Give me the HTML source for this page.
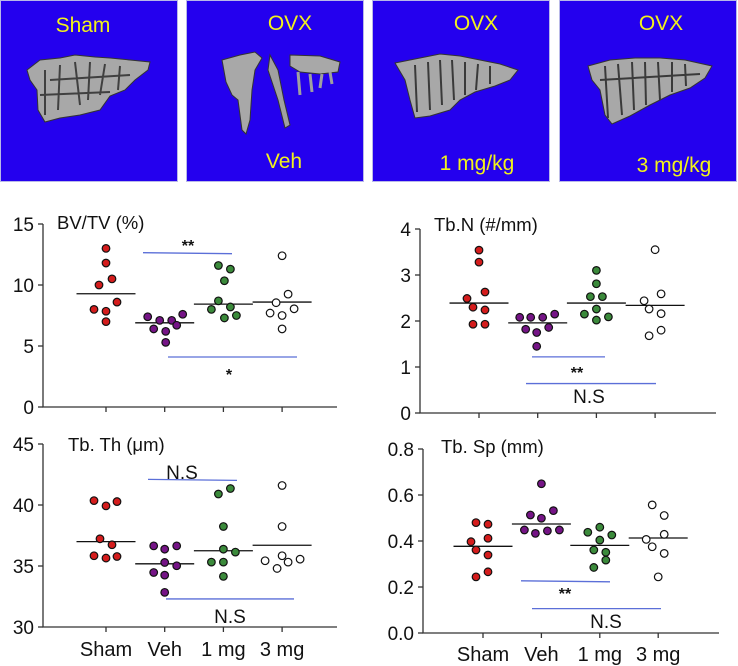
<!DOCTYPE html>
<html><head><meta charset="utf-8"><style>
html,body{margin:0;padding:0;background:#fff;}
svg{display:block;font-family:"Liberation Sans",Arial,sans-serif;}
</style></head><body>
<svg id="fig" width="738" height="666" viewBox="0 0 738 666">
<g>
 <g>
  <rect x="0.5" y="0.5" width="177" height="181" fill="#2400ee" stroke="#b8b8e8"/>
  <path d="M27 70 L40 60 L60 58 L75 55 L95 57 L110 58 L130 60 L150 62 L148 70 L135 80 L125 90 L110 96 L100 110 L80 115 L60 118 L45 122 L38 110 L37 90 L30 80 Z" fill="#a8a8a8" stroke="#333" stroke-width="1"/>
  <path d="M45 70 L45 115 M60 65 L58 110 M75 62 L80 105 M90 62 L88 100 M105 64 L100 95 M120 66 L118 90 M50 80 L130 75 M40 95 L110 92" stroke="#404040" stroke-width="2" fill="none"/>
  <text x="83" y="32" font-size="21" fill="#f2f21a" text-anchor="middle">Sham</text>
 </g>
 <g>
  <rect x="186.5" y="0.5" width="177" height="181" fill="#2400ee" stroke="#b8b8e8"/>
  <path d="M222 60 L240 55 L255 52 L262 58 L255 70 L252 90 L250 120 L246 134 L242 130 L238 100 L232 95 L226 82 Z" fill="#a8a8a8" stroke="#333"/>
  <path d="M270 55 L278 70 L284 100 L290 125 L285 128 L278 100 L268 70 Z" fill="#a0a0a0" stroke="#333"/>
  <path d="M290 55 L320 56 L340 62 L338 72 L320 74 L300 72 L290 66 Z" fill="#a8a8a8" stroke="#333"/>
  <path d="M298 72 L300 95 M310 74 L312 92 M322 74 L320 88 M330 72 L332 84" stroke="#a0a0a0" stroke-width="3"/>
  <text x="290" y="30" font-size="21" fill="#f2f21a" text-anchor="middle">OVX</text>
  <text x="284" y="168" font-size="21" fill="#f2f21a" text-anchor="middle">Veh</text>
 </g>
 <g>
  <rect x="372.5" y="0.5" width="177" height="181" fill="#2400ee" stroke="#b8b8e8"/>
  <path d="M395 63 L420 58 L440 54 L460 56 L480 60 L500 64 L518 70 L510 80 L495 86 L475 92 L460 100 L450 110 L430 116 L415 118 L410 100 L405 80 Z" fill="#a8a8a8" stroke="#333"/>
  <path d="M415 65 L417 112 M428 62 L430 110 M440 60 L442 105 M452 60 L454 100 M465 62 L465 95 M478 64 L476 90 M490 66 L490 84" stroke="#3a3a3a" stroke-width="2"/>
  <text x="476" y="30" font-size="21" fill="#f2f21a" text-anchor="middle">OVX</text>
  <text x="477" y="170" font-size="21" fill="#f2f21a" text-anchor="middle">1 mg/kg</text>
 </g>
 <g>
  <rect x="559.5" y="0.5" width="177" height="181" fill="#2400ee" stroke="#b8b8e8"/>
  <path d="M588 66 L610 60 L635 58 L660 58 L685 60 L712 66 L705 78 L690 88 L670 95 L650 105 L630 116 L612 124 L605 115 L600 90 L592 80 Z" fill="#a8a8a8" stroke="#333"/>
  <path d="M605 66 L608 118 M618 64 L622 115 M632 62 L634 110 M645 62 L646 105 M658 62 L660 100 M672 62 L672 92 M685 64 L686 86 M600 80 L700 74" stroke="#3a3a3a" stroke-width="2"/>
  <text x="661" y="30" font-size="21" fill="#f2f21a" text-anchor="middle">OVX</text>
  <text x="674" y="172" font-size="21" fill="#f2f21a" text-anchor="middle">3 mg/kg</text>
 </g>
</g>
</svg>
<script>
const categories = ["Sham","Veh","1 mg","3 mg"];
const colors = ["#d41c1c","#751486","#3b8a3b","#ffffff"];

const bvSham = [13.0,11.8,10.0,10.5,8.6,8.0,7.85,7.0];
const bvVeh  = [7.4,7.1,7.1,7.6,6.4,6.2,6.7,5.3];
const bv1mg  = [11.6,11.3,10.35,8.7,8.0,8.2,7.3,7.5];
const bv3mg  = [12.4,9.25,8.55,7.7,7.5,8.05,6.4];
const bvMeans = [9.28,6.9,8.43,8.6];
const bvTicks = [0,5,10,15];

const nSham = [3.54,3.28,2.63,2.49,2.30,2.24,1.93,1.93];
const nVeh  = [2.08,2.08,2.08,2.15,1.82,1.75,1.86,1.45];
const n1mg  = [3.10,2.81,2.53,2.53,2.26,2.15,2.02,2.09];
const n3mg  = [3.55,2.59,2.44,2.26,2.16,1.80,1.68];
const nMeans = [2.39,1.96,2.39,2.34];
const nTicks = [0,1,2,3,4];

const thSham = [40.36,39.93,40.28,37.23,36.74,35.84,35.65,35.78];
const thVeh  = [36.65,36.38,36.65,35.29,35.02,34.47,34.25,32.84];
const th1mg  = [40.9,41.35,38.24,36.38,36.14,35.32,35.32,34.15];
const th3mg  = [41.6,38.24,35.84,35.43,34.8,35.32,35.56];
const thMeans = [37.0,35.18,36.25,36.7];
const thTicks = [30,35,40,45];

const spSham = [0.48,0.473,0.397,0.412,0.361,0.339,0.244,0.266];
const spVeh  = [0.649,0.513,0.499,0.532,0.448,0.433,0.444,0.448];
const sp1mg  = [0.438,0.46,0.426,0.404,0.361,0.351,0.285,0.317];
const sp3mg  = [0.557,0.511,0.429,0.407,0.375,0.346,0.244];
const spMeans = [0.377,0.474,0.381,0.413];
const spTicks = ["0.0","0.2","0.4","0.6","0.8"];

// horizontal jitter of dots (px) — layout only
const jit = {
 bv:[[0,0,-7,6,11,-12,0,0],[-17,-5,7,18,-11,1,12,1],[-5,7,1,-5,-12,7,1,13],[0,6,-6,-12,0,12,0]],
 n:[[0,0,6,-12,-6,6,-6,6],[-18,-7,5,17,-12,-1,11,-1],[0,0,-6,6,0,-12,0,12],[0,6,-11,-6,6,6,-6]],
 th:[[-12,0,11,-6,6,-12,0,11],[-11,0,12,0,12,-11,0,0],[-5,7,0,0,12,-12,0,0],[0,0,0,-17,-5,6,18]],
 sp:[[-7,5,-12,5,-7,5,-7,5],[0,-11,0,12,-17,-6,6,18],[-12,0,12,0,-6,6,-6,6],[-6,6,6,-12,-6,6,0]]
};

const NS="http://www.w3.org/2000/svg";
const svg=document.getElementById('fig');
function mk(tag,attrs,parent){const e=document.createElementNS(NS,tag);for(const k in attrs)e.setAttribute(k,attrs[k]);parent.appendChild(e);return e;}

function panel(cfg){
 const g=mk('g',{},svg);
 
 
 const y=v=>cfg.yb-(v-cfg.vmin)/(cfg.vmax-cfg.vmin)*(cfg.yb-cfg.yt);
 const cx=i=>cfg.c0+i*cfg.step;
 const ax=mk('path',{d:`M${cfg.ax} ${cfg.yt} L${cfg.ax} ${cfg.yb} L${cfg.xend} ${cfg.yb}`,stroke:'#333',fill:'none','stroke-width':1.3},g);
 
 
 cfg.ticks.forEach(t=>{
  const v=parseFloat(t);
  mk('line',{x1:cfg.ax-5,x2:cfg.ax,y1:y(v),y2:y(v),stroke:'#333','stroke-width':1.3},g);
  const tx=mk('text',{x:cfg.ax-9,y:y(v)+7,'font-size':19,'text-anchor':'end',fill:'#111'},g);
  tx.textContent=t;
  
  
 });
 categories.forEach((c,i)=>{
  mk('line',{x1:cx(i),x2:cx(i),y1:cfg.yb,y2:cfg.yb+5,stroke:'#333','stroke-width':1.3},g);
  if(cfg.catLabels){
   const t=mk('text',{x:cx(i)+(i==0?0:0),y:cfg.catY,'font-size':20,'text-anchor':'middle',fill:'#111'},g);
   t.textContent=c;
   
   
  }
 });
 const tt=mk('text',{x:cfg.titleX,y:cfg.titleY,'font-size':18.5,fill:'#111'},g);
 tt.textContent=cfg.title;
 
 
 cfg.series.forEach((arr,i)=>{
  const m=mk('line',{x1:cx(i)-29.5,x2:cx(i)+29.5,y1:y(cfg.means[i]),y2:y(cfg.means[i]),stroke:'#111','stroke-width':1.3},g);
  
  
 });
 cfg.series.forEach((arr,i)=>{
  arr.forEach((v,j)=>{
   const d=mk('circle',{cx:cx(i)+cfg.jit[i][j],cy:y(v),r:3.8,fill:colors[i],stroke:'#111','stroke-width':1.2},g);
   
   
  });
 });
 cfg.sig.forEach(s=>{
  const l=mk('line',{x1:s[1],x2:s[2],y1:y(s[0]),y2:y(s[0])+s[6],stroke:'#5b6fd8','stroke-width':1.3},g);
  
  
  const t=mk('text',{x:s[4],y:s[5],'font-size':s[3]=='N.S'?19:16,'font-weight':s[3]=='N.S'?'normal':'bold','text-anchor':'middle',fill:'#111'},g);
  t.textContent=s[3];
  
  
 });
}

panel({name:'chart-bv-tv',ax:43,yt:224,yb:407,xend:337,vmin:0,vmax:15,c0:106,step:58.7,ticks:bvTicks,
 title:'BV/TV (%)',titleX:57,titleY:229,series:[bvSham,bvVeh,bv1mg,bv3mg],means:bvMeans,jit:jit.bv,catLabels:false,
 sig:[[12.65,143,232,'**',188,251,1],[4.1,168,297,'*',229,380,0]]});
panel({name:'chart-tb-n',ax:420,yt:229,yb:413,xend:716,vmin:0,vmax:4,c0:479,step:58.7,ticks:nTicks,
 title:'Tb.N (#/mm)',titleX:434,titleY:231,series:[nSham,nVeh,n1mg,n3mg],means:nMeans,jit:jit.n,catLabels:false,
 sig:[[1.22,532,605,'**',577,378,0],[0.64,526,656,'N.S',589,403,0]]});
panel({name:'chart-tb-th',ax:43,yt:444,yb:627,xend:337,vmin:30,vmax:45,c0:106,step:58.7,ticks:thTicks,
 title:'Tb. Th (\u03bcm)',titleX:68,titleY:451,series:[thSham,thVeh,th1mg,th3mg],means:thMeans,jit:jit.th,catLabels:true,catY:656,
 sig:[[42.1,148,237,'N.S',182,479,1],[32.3,166,294,'N.S',230,623,0]]});
panel({name:'chart-tb-sp',ax:423,yt:449,yb:633,xend:719,vmin:0,vmax:0.8,c0:483,step:58.4,ticks:spTicks,
 title:'Tb. Sp (mm)',titleX:441,titleY:453,series:[spSham,spVeh,sp1mg,sp3mg],means:spMeans,jit:jit.sp,catLabels:true,catY:661,
 sig:[[0.227,521,610,'**',565,599,1],[0.106,532,661,'N.S',606,628,0]]});
</script>
</body></html>
